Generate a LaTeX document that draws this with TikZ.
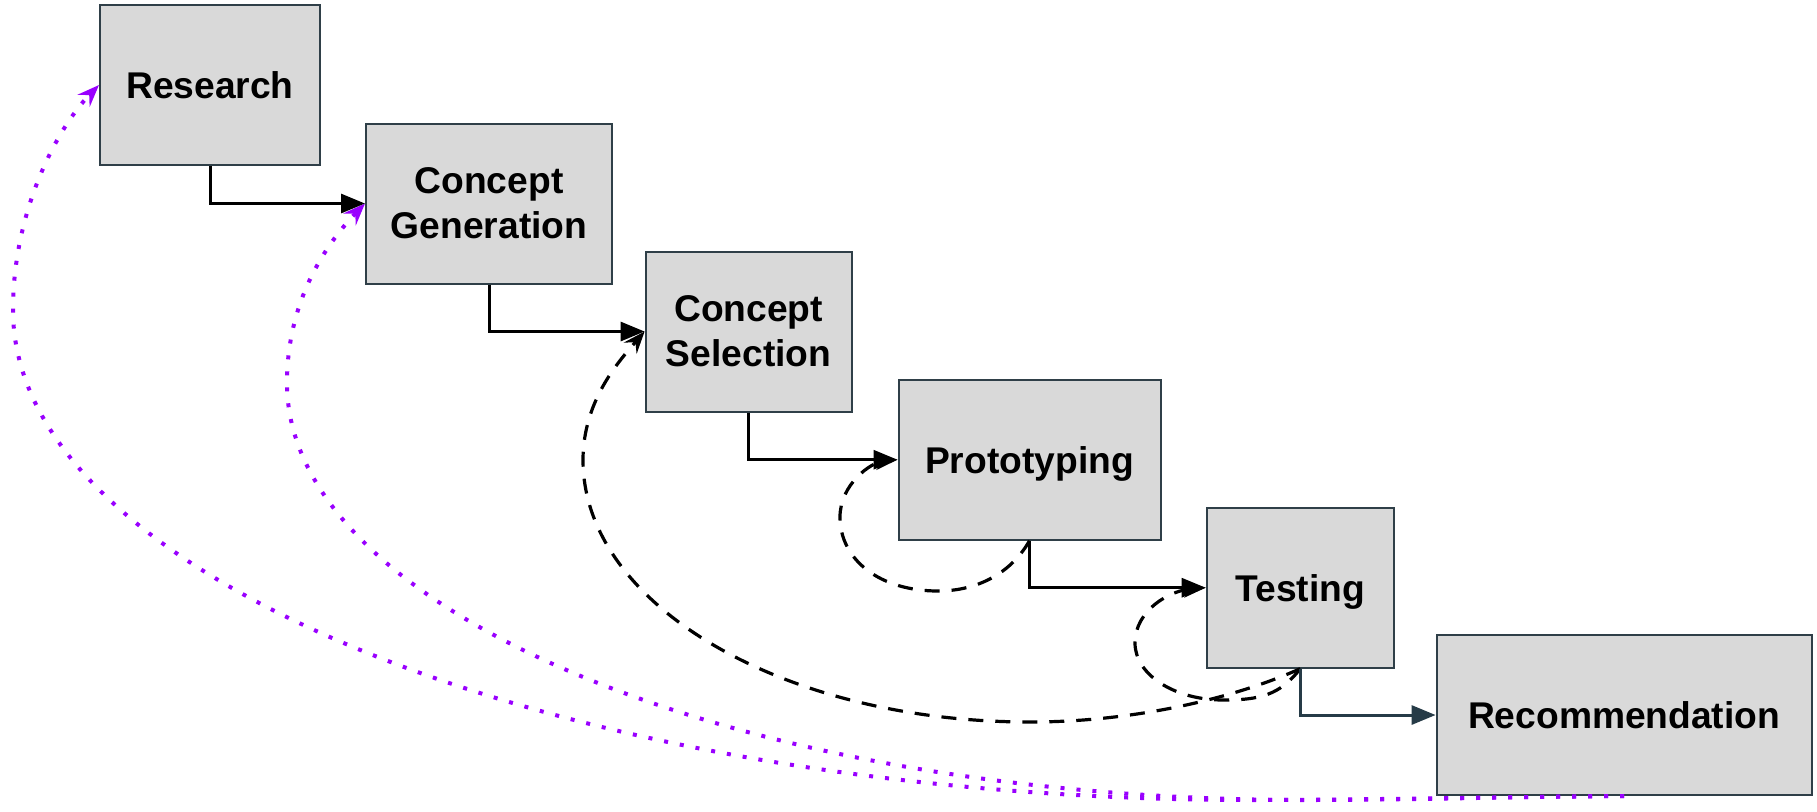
\documentclass[tikz,border=0pt]{standalone}
\usepackage{fontspec}
\setmainfont{Liberation Sans}
\usetikzlibrary{arrows.meta}
\definecolor{boxfill}{HTML}{D9D9D9}
\definecolor{boxline}{HTML}{2F3F48}
\definecolor{slateline}{HTML}{263B47}
\definecolor{loopviolet}{HTML}{9900FF}
\begin{document}
\begin{tikzpicture}[x=0.5pt,y=-0.5pt,
  box/.style={draw=boxline, line width=1pt, fill=boxfill, inner sep=0pt, align=center,
    minimum height=80pt, font=\bfseries\fontsize{18.6pt}{22.5pt}\selectfont},
  flow/.style={line width=1.5pt, -{Triangle[length=12pt,width=9.5pt]}},
  back/.style={line width=1.6pt, dash pattern=on 7.5pt off 6pt, -{Stealth[length=11pt,width=8.5pt,inset=4pt]}},
  feedback/.style={loopviolet, line width=2pt, dash pattern=on 2pt off 6pt, -{Stealth[length=11pt,width=8.5pt,inset=4pt]}}]
\useasboundingbox (0,0) rectangle (1817,811);

\node[box, minimum width=110pt] (R) at (210,85) {Research};
\node[box, minimum width=123pt] (CG) at (489,203.5) {Concept\\Generation};
\node[box, minimum width=103pt] (CS) at (748.6,331.5) {Concept\\Selection};
\node[box, minimum width=131pt, text depth=0pt] (P) at (1029.5,459.7) {Prototyping};
\node[box, minimum width=93.5pt, text depth=0pt] (T) at (1300.2,587.7) {Testing};
\node[box, minimum width=187.5pt] (Rec) at (1624.1,715) {Recommendation};

% feedback loops (purple dotted)
\draw[feedback] (Rec.south) .. controls (1500,797) and (1350,800) .. (1254,800)
  .. controls (568.6,800) and (13,580.6) .. (13,310)
  .. controls (13,210) and (58,127) .. (R.west);
\draw[feedback] (Rec.south) .. controls (1500,797) and (1400,800) .. (1305,800)
  .. controls (742.8,800) and (287,613.3) .. (287,383)
  .. controls (287,303) and (324,246) .. (CG.west);

% iteration loops (dashed)
\draw[back] (T.south) .. controls (1230,700) and (1130,722) .. (1030,722)
  .. controls (783,722) and (583,604.7) .. (583,460)
  .. controls (583,400) and (620,360) .. (CS.west);
\draw[back] (T.south) .. controls (1280,695) and (1260,700) .. (1223,700)
  .. controls (1175,700) and (1135,675) .. (1135,643)
  .. controls (1135,610) and (1170,590) .. (T.west);
\draw[back] (P.south) .. controls (1010,575) and (975,591) .. (938,591)
  .. controls (880,591) and (840,560) .. (840,517)
  .. controls (840,485) and (870,462) .. (P.west);

% main flow
\draw[flow] (R.south) |- (CG.west);
\draw[flow] (CG.south) |- (CS.west);
\draw[flow] (CS.south) |- (P.west);
\draw[flow] (P.south) |- (T.west);
\draw[flow, slateline] (T.south) |- (Rec.west);
\end{tikzpicture}
\end{document}
